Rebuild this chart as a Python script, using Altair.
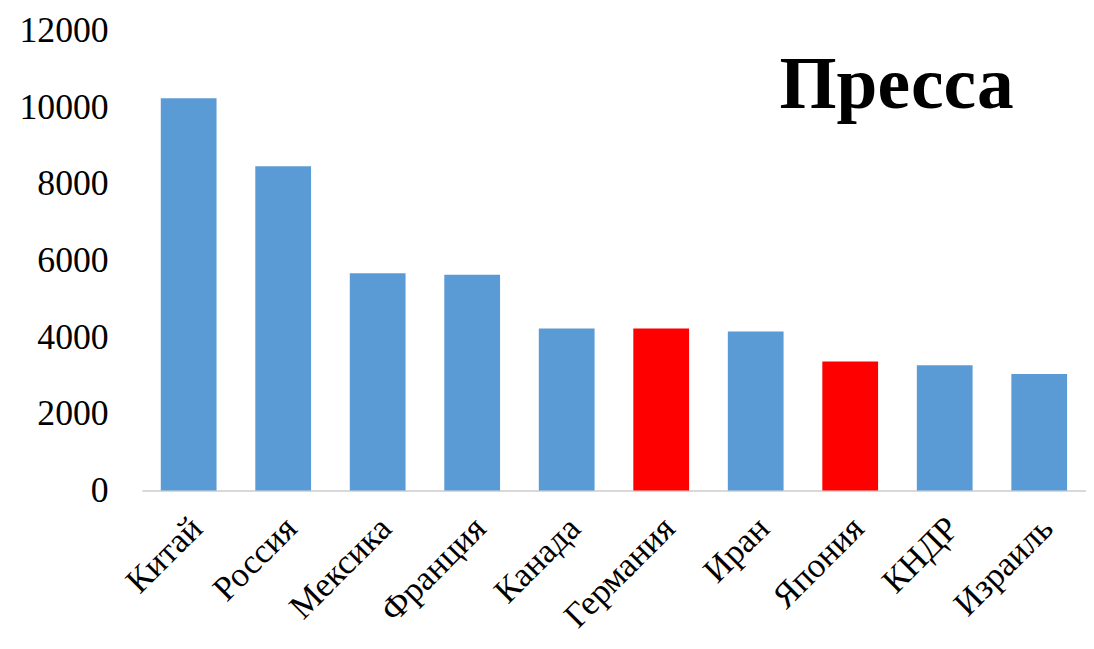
import altair as alt
import pandas as pd

countries = ["Китай", "Россия", "Мексика", "Франция", "Канада",
             "Германия", "Иран", "Япония", "КНДР", "Израиль"]
values = [10230, 8460, 5670, 5630, 4230, 4230, 4150, 3370, 3270, 3040]
highlight = ["no", "no", "no", "no", "no", "yes", "no", "yes", "no", "no"]
y_ticks = [0, 2000, 4000, 6000, 8000, 10000, 12000]
title_text = ["Пресса"]

df = pd.DataFrame({"country": countries, "value": values, "hl": highlight})
tdf = pd.DataFrame({"t": title_text})

FONT = "Liberation Serif"

bars = alt.Chart(df).mark_bar().encode(
    x=alt.X("country:N", sort=countries,
            scale=alt.Scale(paddingInner=0.41, paddingOuter=0.2),
            axis=alt.Axis(title=None, labelAngle=-45, labelAlign="right",
                          labelBaseline="middle", labelFont=FONT, labelFontSize=35,
                          labelColor="#000000", labelPadding=32, labelOffset=8,
                          ticks=False, domainColor="#d9d9d9", domainWidth=2)),
    y=alt.Y("value:Q", scale=alt.Scale(domain=[0, 12000], nice=False),
            axis=alt.Axis(title=None, values=y_ticks, format="d", grid=False,
                          domain=False, ticks=False, labelFont=FONT,
                          labelFontSize=36, labelColor="#000000", labelPadding=34)),
    color=alt.Color("hl:N", scale=alt.Scale(domain=["no", "yes"],
                                            range=["#5B9BD5", "#FF0000"]),
                    legend=None),
)

title = alt.Chart(tdf).mark_text(
    font=FONT, fontSize=74, fontWeight="bold", align="right",
    baseline="alphabetic", color="#000000"
).encode(text="t:N", x=alt.value(879), y=alt.value(78))

chart = alt.layer(bars, title).properties(
    width=952, height=464,
    autosize=alt.AutoSizeParams(type="none"),
    padding={"left": 135, "top": 20, "right": 0, "bottom": 150},
).configure_view(stroke=None)

chart.save("out.html", embed_options={"renderer": "svg", "actions": False})
